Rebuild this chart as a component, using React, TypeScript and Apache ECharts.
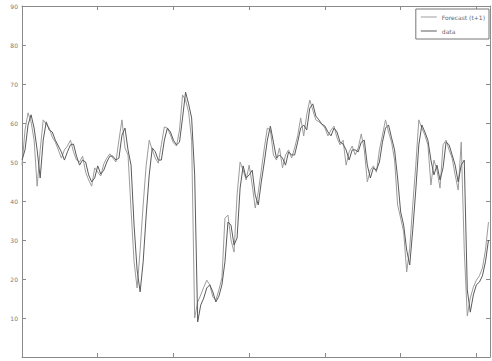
import { useEffect, useRef } from "react";
import * as echarts from "echarts";

// Samples are taken every X_STEP units along the horizontal axis.
const X_STEP = 2;
const xTickLabels = ["0", "50", "100", "150", "200", "250", "300"];
const seriesNames = ["Forecast (t+1)", "data"];

const forecast = [
  49.2, 58.2, 62.6, 60.3, 55.6, 43.8, 53.1, 60.8, 59.7, 58.7,
  56.4, 55.1, 53.1, 51.0, 53.1, 54.1, 55.6, 52.6, 50.5, 50.0,
  51.5, 47.4, 45.4, 43.8, 48.5, 47.4, 46.4, 49.5, 51.0, 52.1,
  51.0, 50.0, 55.6, 60.8, 53.6, 51.8, 37.7, 24.4, 17.7, 27.4,
  39.0, 49.2, 55.6, 53.1, 51.0, 49.7, 54.4, 59.0, 58.7, 56.9,
  54.9, 54.1, 58.2, 67.2, 65.9, 62.8, 55.6, 10.0, 14.1, 15.9,
  17.9, 19.7, 18.5, 15.4, 14.6, 17.2, 20.3, 35.6, 36.4, 30.0,
  26.9, 41.5, 50.0, 47.9, 45.4, 49.2, 44.1, 38.2, 42.3, 47.9,
  53.6, 58.7, 58.2, 51.8, 50.5, 53.6, 48.5, 51.8, 53.1, 51.0,
  53.6, 56.7, 61.3, 56.7, 62.1, 65.9, 63.3, 60.8, 60.3, 59.7,
  58.7, 56.7, 58.2, 59.2, 56.2, 54.4, 55.6, 49.2, 52.6, 54.1,
  51.8, 53.6, 57.2, 53.1, 44.9, 47.9, 49.0, 47.4, 53.1, 56.9,
  60.8, 57.7, 55.1, 50.5, 39.0, 35.6, 32.1, 21.8, 27.9, 39.0,
  49.2, 60.8, 58.7, 56.9, 54.4, 44.1, 50.5, 47.9, 43.3, 54.4,
  55.6, 53.1, 51.0, 46.7, 42.8, 55.1, 27.4, 10.5, 15.1, 17.9,
  19.7, 20.8, 22.8, 27.4, 34.6,
];

const observed = [
  50.5, 53.1, 59.5, 62.1, 58.7, 53.1, 45.9, 55.6, 60.3, 58.2,
  57.7, 55.6, 54.1, 52.6, 50.5, 52.6, 54.4, 54.6, 51.5, 49.2,
  50.5, 50.0, 46.7, 44.9, 45.9, 49.0, 46.9, 47.9, 50.0, 51.5,
  51.5, 50.5, 51.0, 56.9, 58.7, 53.1, 49.2, 33.8, 22.3, 16.7,
  24.4, 36.4, 46.7, 53.6, 52.6, 50.5, 50.5, 55.6, 58.7, 57.7,
  55.6, 54.4, 55.1, 61.3, 67.9, 64.9, 61.3, 46.7, 9.0, 13.3,
  15.1, 17.7, 18.5, 16.7, 14.1, 15.6, 18.5, 24.4, 34.6, 33.8,
  28.7, 30.5, 43.3, 49.0, 45.9, 46.7, 47.9, 41.5, 39.0, 44.9,
  50.0, 55.6, 59.2, 55.1, 51.0, 51.8, 51.0, 49.2, 52.6, 51.8,
  51.8, 55.1, 58.7, 59.5, 58.2, 63.8, 64.9, 61.8, 60.8, 59.7,
  59.2, 57.7, 56.7, 58.7, 57.7, 55.1, 54.6, 53.1, 50.5, 53.1,
  53.1, 52.6, 55.1, 55.6, 49.2, 45.9, 48.5, 47.9, 50.0, 55.1,
  58.7, 59.5, 56.2, 53.1, 45.9, 37.2, 33.8, 27.4, 23.6, 32.6,
  42.8, 54.4, 59.5, 57.7, 55.6, 50.5, 46.7, 49.2, 45.4, 48.5,
  55.1, 54.4, 51.8, 49.2, 44.9, 49.2, 50.5, 17.2, 11.5, 15.9,
  18.5, 19.2, 20.8, 24.4, 30.0,
];

export default function App() {
  const ref = useRef<HTMLDivElement>(null);

  useEffect(() => {
    if (!ref.current) return;
    const chart = echarts.init(ref.current, null, { renderer: "svg" });
    const toPairs = (vals: number[]) => vals.map((v, i) => [i * X_STEP, v]);

    const frameLine = { show: true, onZero: false, lineStyle: { color: "#8a8a8a", width: 1 } };
    const innerTick = { show: true, inside: true, length: 4, lineStyle: { color: "#8a8a8a", width: 1 } };
    const tickFont = { fontSize: 6, color: "#7a7a7a", fontFamily: "DejaVu Sans" };

    chart.setOption({
      animation: false,
      grid: { left: 22, right: 2, top: 6, bottom: 15 },
      xAxis: [
        {
          type: "value", min: 0, max: 309, interval: 50, position: "bottom",
          axisLine: frameLine, axisTick: innerTick, splitLine: { show: false },
          axisLabel: {
            ...tickFont, margin: 3, showMaxLabel: false,
            formatter: (v: number) => xTickLabels[Math.round(v / 50)] ?? "",
          },
        },
        {
          type: "value", min: 0, max: 309, interval: 50, position: "top",
          axisLine: frameLine, axisTick: innerTick, splitLine: { show: false },
          axisLabel: { show: false },
        },
      ],
      yAxis: [
        {
          type: "value", min: 0, max: 90, interval: 10, position: "left",
          axisLine: frameLine, axisTick: innerTick, splitLine: { show: false },
          axisLabel: { ...tickFont, margin: 4, showMinLabel: false },
        },
        {
          type: "value", min: 0, max: 90, interval: 10, position: "right",
          axisLine: frameLine, axisTick: innerTick, splitLine: { show: false },
          axisLabel: { show: false },
        },
      ],
      legend: {
        orient: "vertical", right: 3, top: 9,
        icon: "rect", itemWidth: 16, itemHeight: 1, itemGap: 8,
        padding: [5, 4, 5, 5],
        borderColor: "#777", borderWidth: 1, backgroundColor: "#fff",
        textStyle: { fontSize: 6, color: "#666", fontFamily: "DejaVu Sans" },
        data: seriesNames,
      },
      series: [
        {
          name: seriesNames[0], type: "line", data: toPairs(forecast),
          symbol: "none", lineStyle: { color: "#9c9c9c", width: 1 },
          itemStyle: { color: "#9c9c9c" },
        },
        {
          name: seriesNames[1], type: "line", data: toPairs(observed),
          symbol: "none", lineStyle: { color: "#5a5a5a", width: 1 },
          itemStyle: { color: "#5a5a5a" },
        },
      ],
    });

    return () => chart.dispose();
  }, []);

  return (
    <div
      ref={ref}
      style={{ position: "fixed", left: 0, top: 0, width: 492, height: 372, background: "#fff" }}
    />
  );
}
